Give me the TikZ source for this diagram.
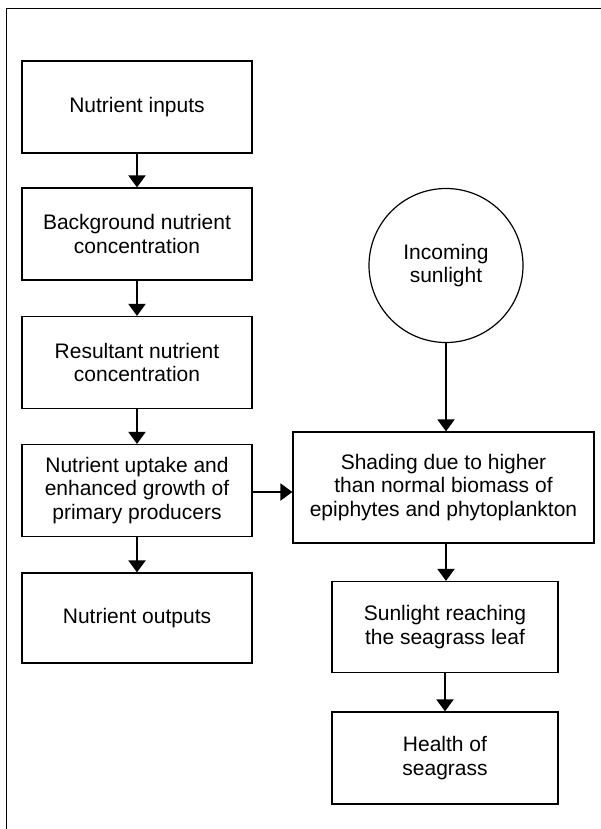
\documentclass[tikz,border=0pt]{standalone}
\usepackage{fontspec}
\setmainfont{Liberation Sans}
\usetikzlibrary{arrows.meta}
\begin{document}
\begin{tikzpicture}[x=1pt,y=-1pt,
  box/.style={draw, line width=1.2pt, rectangle, align=center, inner sep=0pt,
    font=\fontsize{21}{23.5}\selectfont},
  lbox/.style={box, minimum width=230pt, minimum height=92pt},
  rbox/.style={box, minimum width=226pt, minimum height=91pt},
  sun/.style={draw, line width=1.2pt, circle, minimum size=154pt, inner sep=0pt, align=center,
    font=\fontsize{21}{23.5}\selectfont},
  flow/.style={line width=2pt, -{Triangle[width=17pt,length=12pt]}},
  frame/.style={line width=1pt}]
\useasboundingbox (0,0) rectangle (601,829);
\draw[frame] (6,829) -- (6,9) -- (601,9);

\node[lbox] (inputs) at (137,107) {Nutrient inputs};
\node[lbox] (background) at (137,234) {Background nutrient\\concentration};
\node[lbox] (resultant) at (137,362.5) {Resultant nutrient\\concentration};
\node[lbox] (uptake) at (137,490.5) {Nutrient uptake and\\enhanced growth of\\primary producers};
\node[lbox, minimum height=90pt] (outputs) at (137,618) {Nutrient outputs};

\node[sun] (sunlight) at (446,265.5) {Incoming\\sunlight};
\node[box, minimum width=301pt, minimum height=111pt] (shading) at (443.5,487.5)
  {Shading due to higher\\than normal biomass of\\epiphytes and phytoplankton};
\node[rbox] (reaching) at (445,627) {Sunlight reaching\\the seagrass leaf};
\node[rbox, minimum height=92pt] (health) at (445,758) {Health of\\seagrass};

\draw[flow] (inputs) -- (background);
\draw[flow] (background) -- (resultant);
\draw[flow] (resultant) -- (uptake);
\draw[flow] (uptake) -- (outputs);
\draw[flow] (uptake.east |- 0,492) -- (shading.west |- 0,492);
\draw[flow] (sunlight.south) -- (sunlight.south |- shading.north);
\draw[flow] (shading.south -| sunlight.south) -- (reaching.north -| sunlight.south);
\draw[flow] (reaching) -- (health);
\end{tikzpicture}
\end{document}
